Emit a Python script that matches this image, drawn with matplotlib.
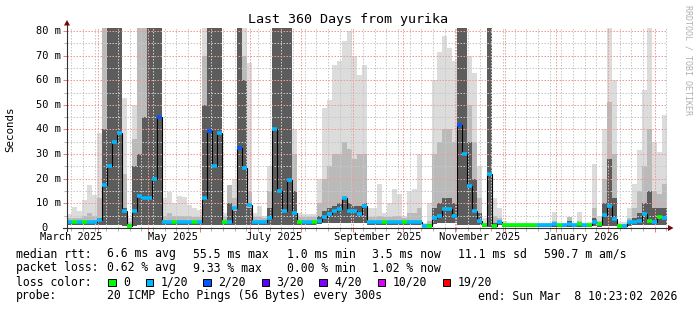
import datetime as dt
import numpy as np
import matplotlib
matplotlib.use("Agg")
import matplotlib.pyplot as plt
from matplotlib.patches import Polygon, Rectangle
from matplotlib.lines import Line2D
from matplotlib.transforms import blended_transform_factory

# ---- data (3-day bins over the last 360 days, values in ms) ----
start = dt.datetime(2025, 3, 13, 10, 23, 2)
bin_days = 3

med = [
    2.4, 2.4, 2.4, 2.4, 2.4, 2.4, 3.2, 17.5, 25, 35,
    38.6, 6.9, 1.0, 7.0, 12.8, 12.0, 12.0, 20.0, 45, 2.4,
    2.4, 2.4, 2.4, 2.4, 2.4, 2.4, 2.4, 12.2, 39.5, 25,
    38.6, 2.5, 2.5, 8.0, 32.5, 24.4, 9.3, 2.4, 2.4, 2.4,
    4.0, 40, 15, 7, 19.5, 6, 2.4, 2.4, 2.4, 2.4,
    3.0, 4.5, 5.7, 7.0, 7.9, 12, 7, 6.9, 5.5, 9,
    2.4, 2.4, 2.4, 2.4, 2.4, 2.4, 2.4, 2.4, 2.4, 2.4,
    2.4, 0.9, 1.0, 4.0, 5.0, 7.9, 7.9, 4.8, 41.8, 30,
    17, 7, 3, 1.2, 22, 1.0, 2.5, 1.2, 1.1, 1.1,
    1.1, 1.1, 1.1, 1.1, 1.1, 1.1, 1.1, 1.5, 1.1, 1.1,
    1.6, 1.1, 1.6, 1.1, 1.1, 2.4, 1.5, 5.3, 9, 3.5,
    1.0, 1.0, 2.4, 2.4, 2.8, 5.7, 2.8, 2.6, 4.3, 4.0,
]

# lightest smoke (max ping)
top = [
    5.5, 8.5, 7.0, 11.4, 17.5, 13.4, 38.6, 82, 82, 82,
    82, 52.8, 4.0, 50, 82, 82, 82, 82, 82, 12,
    14.6, 10, 13, 12.5, 9.5, 8, 7.5, 82, 82, 82,
    82, 6, 17.5, 20, 82, 82, 67, 6, 9, 5,
    25, 82, 82, 82, 82, 40, 6, 5.5, 5.5, 5.5,
    20, 48.7, 52, 66, 68, 76, 80, 70, 62, 66,
    8, 8, 18, 6, 10, 16, 14, 5, 15, 16,
    30, 2, 10, 60, 71.5, 78, 73, 68, 82, 82,
    70, 63, 25, 4, 82, 12, 8, 3, 2, 2,
    2, 2, 2, 2, 2, 2, 2, 6.5, 2, 2,
    4.5, 2, 6.5, 2, 2.5, 26, 5, 40, 82, 60,
    2.5, 2.5, 8, 18, 31.7, 56, 82, 35, 31, 45.9,
]

# middle smoke
mid = [
    4.0, 4.0, 4.0, 5.0, 6.0, 5.0, 12, 82, 82, 82,
    82, 22, 2.5, 36, 82, 82, 82, 82, 82, 5,
    6, 5, 5, 5, 5, 4.5, 4.5, 70, 82, 82,
    82, 4.5, 17.5, 12, 82, 70, 15, 4.5, 4.5, 4,
    15, 82, 82, 82, 82, 30, 4.5, 4.5, 4.5, 4.5,
    10, 20, 25, 30, 30, 35, 32, 28, 30, 30,
    4.5, 4.5, 5, 4.5, 4.5, 5, 5, 4, 6, 6,
    8, 1.5, 3, 30, 35, 40, 40, 35, 82, 82,
    50, 35, 12, 2, 82, 5, 4, 2, 1.6, 1.6,
    1.6, 1.6, 1.6, 1.6, 1.6, 1.6, 1.6, 3, 1.6, 1.6,
    4.5, 1.6, 3, 1.6, 1.8, 8, 3, 20, 51, 30,
    1.8, 1.8, 4, 8, 15, 25, 40, 15, 14, 18,
]

# dense smoke
dark = [
    3, 3, 3, 3, 3, 3, 4, 40, 82, 82,
    82, 8, 1.8, 25, 30, 45, 82, 82, 82, 3,
    3, 3, 3, 3, 3, 3, 3, 50, 82, 82,
    82, 3, 10, 7, 82, 60, 8, 3, 3, 3,
    8, 82, 82, 82, 82, 15, 3, 3, 3, 3,
    5, 7, 8, 9, 10, 12, 10, 9, 9, 10,
    3, 3, 3, 3, 3, 3, 3, 3, 3, 3,
    3, 1.2, 1.5, 8, 10, 12, 12, 10, 82, 82,
    35, 20, 6, 1.6, 82, 2, 3, 1.6, 1.3, 1.3,
    1.3, 1.3, 1.3, 1.3, 1.3, 1.3, 1.3, 2, 1.3, 1.3,
    3, 1.3, 2, 1.3, 1.4, 4, 2, 10, 28, 12,
    1.4, 1.4, 3, 4, 6, 10, 15, 8, 8, 8,
]

# min ping
lo = [
    1.3, 1.3, 1.3, 1.3, 1.3, 1.3, 1.3, 1.3, 1.3, 1.3,
    1.3, 1.0, 0.5, 1.0, 1.3, 1.3, 1.3, 1.3, 1.3, 1.3,
    1.3, 1.3, 1.3, 1.3, 1.3, 1.3, 1.3, 1.3, 1.3, 1.3,
    1.3, 1.3, 1.3, 1.3, 1.3, 1.3, 1.3, 1.3, 1.3, 1.3,
    1.3, 1.3, 1.3, 1.3, 1.3, 1.3, 1.3, 1.3, 1.3, 1.3,
    1.5, 2.0, 2.0, 2.0, 2.0, 2.0, 2.0, 2.0, 2.0, 2.0,
    1.3, 1.3, 1.3, 1.3, 1.3, 1.3, 1.3, 1.3, 1.3, 1.3,
    1.3, 0.3, 0.3, 1.5, 2.0, 2.0, 2.0, 2.0, 1.3, 1.3,
    1.3, 1.3, 1.3, 0.5, 0.5, 0.5, 1.3, 0.5, 0.5, 0.5,
    0.5, 0.5, 0.5, 0.5, 0.5, 0.5, 0.5, 0.5, 0.5, 0.5,
    0.5, 0.5, 0.5, 0.5, 0.5, 1.0, 0.5, 1.0, 1.0, 1.0,
    0.5, 0.5, 1.0, 1.3, 1.3, 1.3, 1.3, 1.3, 1.3, 1.3,
]

# loss class per bin (index into loss_colors)
loss = [
    1, 0, 1, 0, 1, 1, 1, 1, 1, 1,
    1, 1, 0, 1, 1, 1, 1, 1, 2, 1,
    1, 0, 1, 1, 1, 0, 1, 1, 2, 1,
    1, 0, 1, 1, 2, 1, 1, 1, 1, 1,
    1, 1, 1, 1, 1, 1, 0, 1, 1, 0,
    1, 1, 1, 1, 1, 1, 1, 1, 1, 1,
    1, 1, 1, 0, 1, 1, 1, 0, 1, 1,
    1, 1, 0, 1, 1, 1, 1, 1, 2, 1,
    1, 1, 1, 0, 1, 0, 1, 0, 0, 0,
    0, 0, 0, 0, 1, 1, 1, 1, 0, 1,
    1, 1, 0, 1, 0, 1, 0, 1, 1, 1,
    0, 1, 1, 1, 1, 1, 0, 1, 0, 1,
]

loss_labels = ["0", "1/20", "2/20", "3/20", "4/20", "10/20", "19/20"]
loss_colors = ["#00ff00", "#00b8ff", "#0059ff", "#5e00ff", "#7e00ff", "#dd00ff", "#ff0000"]

month_labels = ["March 2025", "May 2025", "July 2025", "September 2025",
                "November 2025", "January 2026"]
label_months = [(2025, 3), (2025, 5), (2025, 7), (2025, 9), (2025, 11), (2026, 1)]

rtt_stats = ["6.6 ms avg", "55.5 ms max", "1.0 ms min", "3.5 ms now", "11.1 ms sd", "590.7 m am/s"]
loss_stats = ["0.62 % avg", "9.33 % max", "0.00 % min", "1.02 % now"]

# ---- layout helpers (pixel coords, origin top-left) ----
W, H = 697, 310
MONO = "DejaVu Sans Mono"


def fx(x):
    return x / W


def fy(y):
    return 1 - y / H


def day_of(d):
    return (d - start).total_seconds() / 86400


fig = plt.figure(figsize=(W / 100, H / 100), dpi=100)
fig.patch.set_facecolor("white")
ax = fig.add_axes([fx(67), fy(228), 600 / W, 200 / H])
ax.set_xlim(0, 360)
ax.set_ylim(0, 81.2)
for s in ax.spines.values():
    s.set_visible(False)

edges = np.arange(0, 361, bin_days)

# smoke
ax.stairs(top, edges, baseline=lo, fill=True, color="#dcdcdc", lw=0, zorder=1)
ax.stairs(mid, edges, baseline=lo, fill=True, color="#bababa", lw=0, zorder=1.1)
ax.stairs(dark, edges, baseline=lo, fill=True, color="#5c5c5c", lw=0, zorder=1.2)

# grid
month_days = []
for y, m in [(2025, m) for m in range(4, 13)] + [(2026, m) for m in (1, 2, 3)]:
    month_days.append(day_of(dt.datetime(y, m, 1)))
week_days = []
d = dt.datetime(2025, 3, 16)
while day_of(d) < 360:
    if d.day != 1:
        week_days.append(day_of(d))
    d += dt.timedelta(days=7)

gkw = dict(linestyles=(0, (1.5, 1.5)), lw=0.72, zorder=3)
ax.vlines(week_days, 0, 81.2, colors="#c8c8c8", **gkw)
ax.hlines(np.arange(5, 81, 10), 0, 360, colors="#c8c8c8", **gkw)
ax.vlines(month_days, 0, 81.2, colors="#f29a9a", **gkw)
ax.hlines(np.arange(10, 81, 10), 0, 360, colors="#f29a9a", **gkw)

# median
ax.stairs(med, edges, baseline=None, color="black", lw=0.8, zorder=4)
ax.hlines(med, edges[:-1], edges[1:], colors=[loss_colors[k] for k in loss], lw=2.6, zorder=5)

# ticks
ax.set_xticks(month_days)
ax.set_xticks(week_days, minor=True)
ax.set_yticks(np.arange(0, 81, 10))
ax.set_yticks(np.arange(5, 81, 10), minor=True)
ax.tick_params(which="major", length=3, width=0.7, color="#ff7070", labelbottom=False, labelleft=False)
ax.tick_params(which="minor", length=2, width=0.7, color="#b0b0b0")

# axes with arrows
axis_col = "#303030"
fig.add_artist(Line2D([fx(63), fx(669)], [fy(228), fy(228)], color=axis_col, lw=0.8))
fig.add_artist(Line2D([fx(67), fx(67)], [fy(231), fy(24)], color=axis_col, lw=0.8))
fig.add_artist(Polygon([(fx(668), fy(225)), (fx(668), fy(231)), (fx(673.5), fy(228))],
                       closed=True, color="#7f0000", lw=0))
fig.add_artist(Polygon([(fx(64), fy(25.5)), (fx(70), fy(25.5)), (fx(67), fy(20))],
                       closed=True, color="#7f0000", lw=0))

# tick labels
ytr = blended_transform_factory(fig.transFigure, ax.transData)
for v in range(10, 81, 10):
    ax.text(fx(61), v, f"{v} m", transform=ytr, ha="right", va="center",
            fontsize=7.5, family=MONO)
ax.text(fx(45), 0, "0", transform=ytr, ha="center", va="center", fontsize=7.5, family=MONO)

xtr = blended_transform_factory(ax.transData, fig.transFigure)
for lab, (y, m) in zip(month_labels, label_months):
    xd = day_of(dt.datetime(y, m, 1)) + 15
    ax.text(xd, fy(237.5), lab, transform=xtr, ha="center", va="center",
            fontsize=7.5, family=MONO)

# titles
fig.text(fx(348), fy(19), "Last 360 Days from yurika", ha="center", va="center",
         fontsize=9.6, family=MONO)
fig.text(fx(10.5), fy(129), "Seconds", rotation=90, ha="center", va="center",
         fontsize=7.8, family=MONO)
fig.text(fx(688), fy(60), "RRDTOOL / TOBI OETIKER", rotation=270, ha="center", va="center",
         fontsize=6, family=MONO, color="#b0b0b0")

# legend
LF = 8.3
fig.text(fx(16), fy(254), "median rtt:", ha="left", va="center", fontsize=LF, family=MONO)
for x, s in zip([107, 193, 287, 372, 458, 544], rtt_stats):
    fig.text(fx(x), fy(254), s, ha="left", va="center", fontsize=LF, family=MONO)
fig.text(fx(16), fy(268), "packet loss:", ha="left", va="center", fontsize=LF, family=MONO)
for x, s in zip([107, 193, 287, 372], loss_stats):
    fig.text(fx(x), fy(268), s, ha="left", va="center", fontsize=LF, family=MONO)
fig.text(fx(16), fy(282), "loss color:", ha="left", va="center", fontsize=LF, family=MONO)
for x, lab, c in zip([108.3, 145.7, 203.3, 261.7, 319.3, 377.7, 442.7], loss_labels, loss_colors):
    fig.add_artist(Rectangle((fx(x), fy(286)), 7.5 / W, 7.5 / H, facecolor=c,
                             edgecolor="black", lw=0.7))
    fig.text(fx(x + 15), fy(282), lab, ha="left", va="center", fontsize=LF, family=MONO)
fig.text(fx(16), fy(296), "probe:", ha="left", va="center", fontsize=LF, family=MONO)
fig.text(fx(107), fy(296), "20 ICMP Echo Pings (56 Bytes) every 300s", ha="left", va="center",
         fontsize=LF, family=MONO)
fig.text(fx(478), fy(296), "end: Sun Mar  8 10:23:02 2026", ha="left", va="center",
         fontsize=LF, family=MONO)

fig.savefig("out.png", dpi=100, facecolor="white")
